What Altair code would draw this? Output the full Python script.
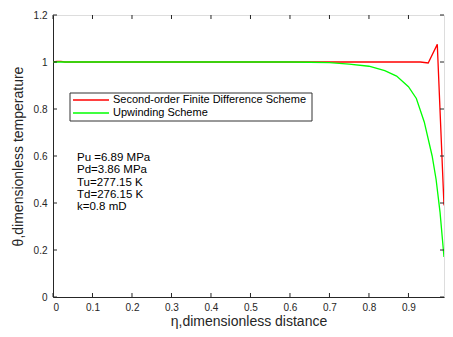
import altair as alt
import pandas as pd

# --- data ---
red_x = [0.0, 0.01, 0.02, 0.03, 0.05, 0.10, 0.20, 0.30, 0.40, 0.50, 0.60, 0.70, 0.80, 0.90, 0.93, 0.95, 0.973, 0.99]
red_y = [1.0, 1.003, 1.003, 1.0, 1.0, 1.0, 1.0, 1.0, 1.0, 1.0, 1.0, 1.0, 1.0, 1.0, 1.0, 0.996, 1.075, 0.39]

green_x = [0.0, 0.10, 0.20, 0.30, 0.40, 0.50, 0.60, 0.65, 0.70, 0.75, 0.80, 0.84, 0.87, 0.90, 0.92, 0.94, 0.96, 0.97, 0.98, 0.99]
green_y = [1.0, 1.0, 1.0, 1.0, 1.0, 1.0, 1.0, 0.999, 0.997, 0.991, 0.982, 0.963, 0.94, 0.895, 0.845, 0.745, 0.60, 0.50, 0.36, 0.17]

series_names = ["Second-order Finite Difference Scheme", "Upwinding Scheme"]
series_colors = ["#ff0000", "#00ff00"]
x_ticks = [0, 0.1, 0.2, 0.3, 0.4, 0.5, 0.6, 0.7, 0.8, 0.9]
y_ticks = [0, 0.2, 0.4, 0.6, 0.8, 1.0, 1.2]
annotation = ["Pu =6.89 MPa", "Pd=3.86 MPa", "Tu=277.15 K", "Td=276.15 K", "k=0.8 mD"]

W, H = 391, 282
FONT = "Liberation Sans"
AXC = "#262626"

df = pd.concat([
    pd.DataFrame({"x": red_x, "y": red_y, "s": series_names[0]}),
    pd.DataFrame({"x": green_x, "y": green_y, "s": series_names[1]}),
])

xs = alt.Scale(domain=[0, 0.99], nice=False, zero=False)
ys = alt.Scale(domain=[0, 1.2], nice=False)

lines = alt.Chart(df).mark_line(strokeWidth=1.3, clip=True).encode(
    x=alt.X("x:Q", scale=xs,
            axis=alt.Axis(values=x_ticks, title="η,dimensionless distance", grid=False,
                          tickSize=0, labelPadding=5, labelFontSize=10, labelColor=AXC,
                          labelFont=FONT, titleFont=FONT, titleFontSize=14, titleFontWeight="normal",
                          titleColor=AXC, domainColor=AXC, titlePadding=2,
                          labelExpr="datum.value == 0 ? '0' : format(datum.value, '.1f')")),
    y=alt.Y("y:Q", scale=ys,
            axis=alt.Axis(values=y_ticks, title="θ,dimensionless temperature", grid=False,
                          tickSize=0, labelPadding=6, labelFontSize=10, labelColor=AXC,
                          labelFont=FONT, titleFont=FONT, titleFontSize=14, titleFontWeight="normal",
                          titleColor=AXC, domainColor=AXC, titlePadding=8,
                          labelExpr="datum.value == 0 ? '0' : datum.value == 1 ? '1' : format(datum.value, '.1f')")),
    color=alt.Color("s:N", scale=alt.Scale(domain=series_names, range=series_colors), legend=None),
    detail="s:N",
)

xt = pd.DataFrame({"t": x_ticks})
yt = pd.DataFrame({"t": y_ticks})
tick_style = dict(color=AXC, strokeWidth=1)
bt = alt.Chart(xt).mark_rule(**tick_style).encode(x=alt.X("t:Q", scale=xs), y=alt.value(H), y2=alt.value(H - 4))
tt = alt.Chart(xt).mark_rule(**tick_style).encode(x=alt.X("t:Q", scale=xs), y=alt.value(0), y2=alt.value(4))
lt = alt.Chart(yt).mark_rule(**tick_style).encode(y=alt.Y("t:Q", scale=ys), x=alt.value(0), x2=alt.value(4))
rt = alt.Chart(yt).mark_rule(**tick_style).encode(y=alt.Y("t:Q", scale=ys), x=alt.value(W), x2=alt.value(W - 4))

# legend
leg_box = alt.Chart(pd.DataFrame({"a": [0]})).mark_rect(fill="white", stroke="#333333", strokeWidth=1).encode(
    x=alt.value(17), x2=alt.value(259), y=alt.value(78), y2=alt.value(106))
leg_lines = []
leg_texts = []
for i, (name, col) in enumerate(zip(series_names, series_colors)):
    yy = 85 + 13 * i
    one = pd.DataFrame({"s": [name]})
    leg_lines.append(alt.Chart(one).mark_rule(color=col, strokeWidth=1.3).encode(
        x=alt.value(20), x2=alt.value(56), y=alt.value(yy)))
    leg_texts.append(alt.Chart(one).mark_text(align="left", baseline="middle", font=FONT, fontSize=11,
                                              color="#000000").encode(
        x=alt.value(60), y=alt.value(yy), text="s:N"))

ann = alt.Chart(pd.DataFrame({"t": ["\n".join(annotation)]})).mark_text(
    align="left", baseline="top", font=FONT, fontSize=11.5, color="#000000", lineBreak="\n", lineHeight=12.3
).encode(x=alt.value(24), y=alt.value(137), text="t:N")

chart = alt.layer(lines, bt, tt, lt, rt, leg_box, *leg_lines, *leg_texts, ann).properties(
    width=W, height=H,
    autosize=alt.AutoSizeParams(type="none"),
    padding={"left": 45, "top": 7, "right": 1, "bottom": 32},
).configure_view(stroke=AXC, strokeWidth=1).configure(background="white")

chart.save("out.html", embed_options={"renderer": "svg", "actions": False})
